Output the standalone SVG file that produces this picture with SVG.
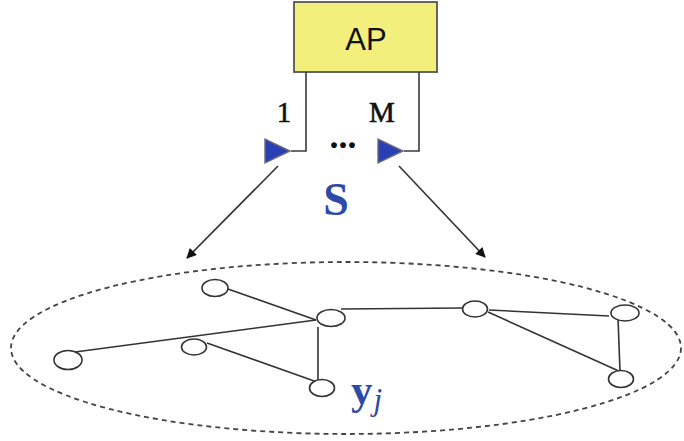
<svg xmlns="http://www.w3.org/2000/svg" width="684" height="441" viewBox="0 0 684 441">
  <style>
    .wire { fill: none; stroke: #3a3a3a; stroke-width: 1.6; }
    .edge { fill: none; stroke: #333; stroke-width: 1.6; }
    .node { fill: #fff; stroke: #333; stroke-width: 1.6; }
    .ant { fill: #2b3fb5; stroke: #6a6a7a; stroke-width: 1.4; stroke-linejoin: miter; }
    .serif { font-family: "Liberation Serif", "DejaVu Serif", serif; }
    .port { fill: #111; stroke: #111; stroke-width: 0.6; }
    .sym { fill: #2c4aa8; font-weight: bold; }
  </style>
  <defs>
    <marker id="arrow" viewBox="0 0 10 10" refX="9" refY="5" markerWidth="11" markerHeight="10" orient="auto" markerUnits="userSpaceOnUse">
      <path d="M0,0 L10,5 L0,10 z" fill="#111"/>
    </marker>
  </defs>

  <rect width="684" height="441" fill="#fff"/>

  <!-- access point -->
  <g id="ap">
    <rect x="294" y="2" width="143" height="70" fill="#f3ef7c" stroke="#555" stroke-width="1.8"/>
    <text x="366" y="50" text-anchor="middle" font-family="'Liberation Sans', Arial, sans-serif" font-size="31" fill="#111">AP</text>
  </g>

  <!-- antenna 1 -->
  <g id="antenna-1">
    <polyline class="wire" points="306,72 306,151 291,151"/>
    <polygon class="ant" points="265,139 265,163 290,151"/>
    <text class="serif port" x="284" y="122" text-anchor="middle" font-size="29">1</text>
  </g>

  <!-- antenna M -->
  <g id="antenna-m">
    <polyline class="wire" points="419,72 419,151 404,151"/>
    <polygon class="ant" points="378,139 378,163 403,151"/>
    <text class="serif port" x="382" y="122" text-anchor="middle" font-size="29">M</text>
  </g>

  <text class="serif" x="343" y="148" text-anchor="middle" font-size="36" font-weight="bold" fill="#111">...</text>

  <!-- transmitted signal -->
  <text class="serif sym" x="336" y="215" text-anchor="middle" font-size="46">S</text>

  <!-- coverage area -->
  <ellipse id="area" cx="346" cy="348" rx="335" ry="86" fill="none" stroke="#444" stroke-width="1.8" stroke-dasharray="5,4"/>

  <!-- received signal -->
  <text class="serif sym" x="351" y="404" font-size="43">y<tspan font-size="31" font-weight="normal" font-style="italic" dx="1" dy="6">j</tspan></text>

  <!-- connectors -->
  <g id="connectors">
    <line class="edge" x1="278" y1="166" x2="187" y2="258" marker-end="url(#arrow)"/>
    <line class="edge" x1="399" y1="166" x2="485" y2="257" marker-end="url(#arrow)"/>
    <line class="edge" x1="228" y1="289" x2="316" y2="320"/>
    <line class="edge" x1="75" y1="352" x2="316" y2="320"/>
    <line class="edge" x1="341" y1="309" x2="463" y2="308"/>
    <line class="edge" x1="318" y1="327" x2="318" y2="380"/>
    <line class="edge" x1="207" y1="343" x2="317" y2="382"/>
    <line class="edge" x1="489" y1="310" x2="609" y2="316"/>
    <line class="edge" x1="488" y1="312" x2="621" y2="372"/>
    <line class="edge" x1="618" y1="318" x2="620" y2="371"/>
  </g>

  <!-- users -->
  <g id="user-a"><ellipse class="node" cx="215" cy="288" rx="13" ry="8.5"/></g>
  <g id="user-b"><ellipse class="node" cx="331" cy="318" rx="14" ry="8.5"/></g>
  <g id="user-c"><ellipse class="node" cx="194" cy="347" rx="12.5" ry="8"/></g>
  <g id="user-d"><ellipse class="node" cx="68" cy="360" rx="14" ry="9.5"/></g>
  <g id="user-e"><ellipse class="node" cx="322" cy="388" rx="12.5" ry="8.5"/></g>
  <g id="user-f"><ellipse class="node" cx="475" cy="309" rx="12.5" ry="8"/></g>
  <g id="user-g"><ellipse class="node" cx="625" cy="313" rx="14" ry="8"/></g>
  <g id="user-h"><ellipse class="node" cx="621" cy="379" rx="12.5" ry="8.5"/></g>
</svg>
